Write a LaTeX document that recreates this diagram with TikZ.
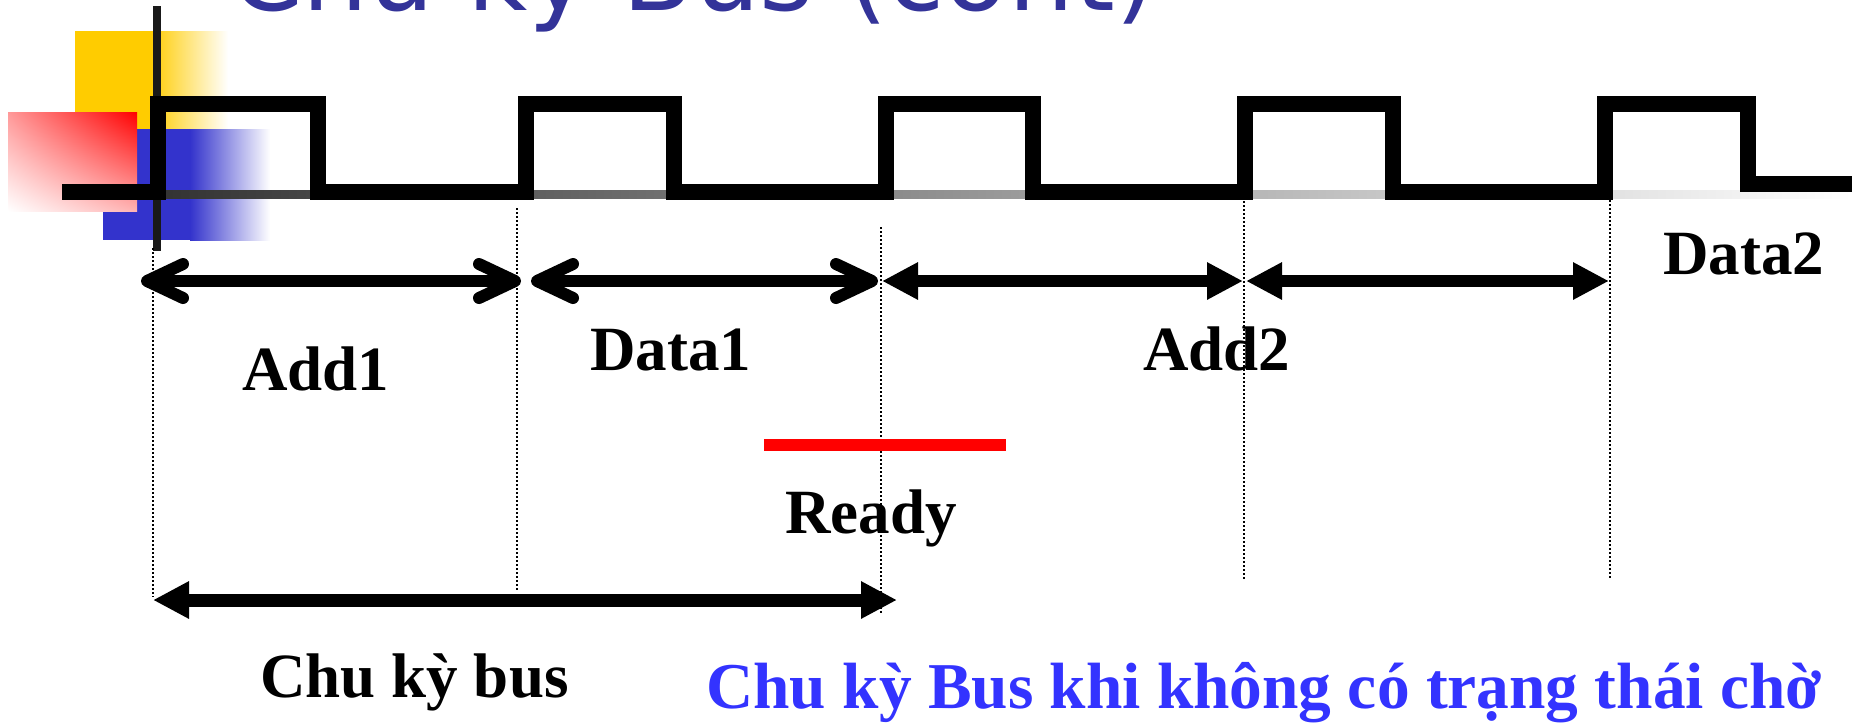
\documentclass[tikz,border=0pt]{standalone}
\usepackage{fontspec}
\setmainfont{Liberation Serif}
\newfontfamily\titlefont{DejaVu Sans}
\usepackage{tikz}
\usepackage{xcolor}
\usetikzlibrary{arrows.meta,shadings}

\definecolor{titleblue}{HTML}{333399}
\definecolor{capblue}{HTML}{3333FF}
\definecolor{sqyellow}{HTML}{FFCC00}
\definecolor{sqblue}{HTML}{3333CC}

\begin{document}
\begin{tikzpicture}[x=0.5pt,y=-0.5pt,
    clk/.style={line width=8pt, line join=miter},
    barbs/.style={line width=6pt, {Straight Barb[length=18pt,width=17pt,round]}-{Straight Barb[length=18pt,width=17pt,round]}},
    tris/.style={line width=6pt, {Triangle[length=18pt,width=17.5pt]}-{Triangle[length=18pt,width=17.5pt]}},
    guide/.style={line width=1pt, dash pattern=on 1pt off 1pt},
    lbl/.style={anchor=base west, inner sep=0pt, font=\bfseries\fontsize{31.5pt}{36pt}\selectfont}]

                \useasboundingbox (0,0) rectangle (1852,724);

                % Title, mostly above the page
                \node[anchor=base west, inner sep=0pt, text=titleblue,
                      font=\titlefont\fontsize{52pt}{62pt}\selectfont] (title) at (230,10) {Chu kỳ Bus (cont)};

                % Corner squares
                \fill[sqyellow] (75,31) rectangle (150,140);
                \shade[left color=sqyellow, right color=white] (150,31) rectangle (228,140);
                \fill[sqblue] (103,129) rectangle (190,240);
                \shade[left color=sqblue, right color=white] (190,129) rectangle (270,240);
                \shade[upper right=red, lower left=white, upper left=red!40, lower right=red!30] (8,112) rectangle (137,211);
                \draw[line width=4pt, black!90] (157,6) -- (157,251);

                % Fading base line under the clock
                \shade[left color=black!80, middle color=black!28, right color=white] (160,190) rectangle (1852,198);

                % Clock
                \draw[clk] (62,192) -- (158,192) -- (158,104) -- (318,104) -- (318,192)
                    -- (526,192) -- (526,104) -- (674,104) -- (674,192)
                    -- (886,192) -- (886,104) -- (1033,104) -- (1033,192)
                    -- (1245,192) -- (1245,104) -- (1393,104) -- (1393,192)
                    -- (1605,192) -- (1605,104) -- (1748,104) -- (1748,184) -- (1852,184);

                % Dotted time marks
                \draw[guide] (153,248) -- (153,597);
                \draw[guide] (517,208) -- (517,592);
                \draw[guide] (881,227) -- (881,615);
                \draw[guide] (1244,197) -- (1244,579);
                \draw[guide] (1610,192) -- (1610,579);

                % Arrow ends
                \coordinate (add1L) at (141,281);
                \coordinate (add1R) at (521,281);
                \coordinate (data1L) at (531,281);
                \coordinate (data1R) at (878,281);
                \coordinate (add2L) at (882,281);
                \coordinate (add2R) at (1243,281);
                \coordinate (data2L) at (1246,281);
                \coordinate (data2R) at (1609,281);
                \coordinate (busL) at (153,600);
                \coordinate (busR) at (897,600);

                % Phases
                \draw[barbs] (add1L) -- (add1R);
                \draw[barbs] (data1L) -- (data1R);
                \draw[tris] (add2L) -- (add2R);
                \draw[tris] (data2L) -- (data2R);
                \draw[tris, line width=6.5pt] (busL) -- (busR);

                % Ready signal
                \draw[red, line width=6pt] (764,445) -- (1006,445);

                % Labels
                \node[lbl] (add1) at (242,390) {Add1};
                \node[lbl] (data1) at (590,370) {Data1};
                \node[lbl] (add2) at (1143,370) {Add2};
                \node[lbl] (data2) at (1663,274) {Data2};
                \node[lbl] (ready) at (785,533) {Ready};
                \node[lbl] (bus) at (260,697) {Chu kỳ bus};
                \node[lbl, text=capblue, font=\bfseries\fontsize{32.7pt}{38pt}\selectfont] (caption) at (706,708) {Chu kỳ Bus khi không có trạng thái chờ};
\end{tikzpicture}
\end{document}
